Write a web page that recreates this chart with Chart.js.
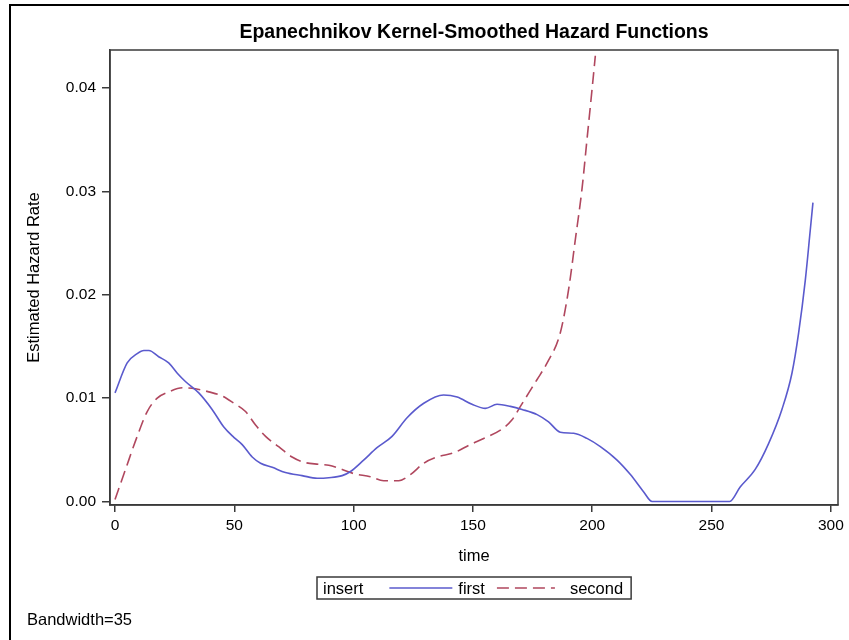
<!DOCTYPE html>
<html>
<head>
<meta charset="utf-8">
<title>Epanechnikov Kernel-Smoothed Hazard Functions</title>
<script src="https://cdn.jsdelivr.net/npm/chart.js@4.4.1/dist/chart.umd.min.js"></script>
<style>
  html, body { margin: 0; padding: 0; background: #fff; }
  #wrap { width: 849px; height: 640px; position: relative; }
</style>
</head>
<body>
<div id="wrap"><canvas id="hazardChart" width="849" height="640"></canvas></div>
<script>
// Dữ liệu
const chartTitle = 'Epanechnikov Kernel-Smoothed Hazard Functions';
const xTitle = 'time';
const yTitle = 'Estimated Hazard Rate';
const legendTitle = 'insert';
const footnote = 'Bandwidth=35';

const xTicks = [0, 50, 100, 150, 200, 250, 300];
const yTicks = [0.00, 0.01, 0.02, 0.03, 0.04];

const seriesNames = ['first', 'second'];

const firstTime = [0, 5.1, 9.3, 12.1, 14.2, 18.3, 22.5, 26.1, 29.5, 35.1, 40.7, 45.6, 49.8, 53.3,
  57.5, 61.0, 65.9, 71.4, 78.4, 84.7, 89.6, 95.2, 98.7, 104.2, 109.8, 116.1, 122.4, 129.4,
  137.7, 143.4, 149.6, 155.2, 160.1, 165.7, 170.6, 176.9, 181.7, 186.6, 192.2, 197.8, 203.4,
  210.4, 216.0, 221.5, 225.1, 257.6, 262.0, 268.3, 273.9, 279.5, 283.7, 286.5, 289.3, 291.4, 292.5];
const firstHazard = [0.0105, 0.0134, 0.0143, 0.0146, 0.0146, 0.0140, 0.0134, 0.0124, 0.0116, 0.0105,
  0.0089, 0.0072, 0.0062, 0.0055, 0.0043, 0.0037, 0.0033, 0.0028, 0.0025, 0.00225, 0.0023,
  0.0025, 0.0029, 0.0040, 0.0052, 0.0063, 0.0081, 0.0095, 0.0103, 0.0101, 0.0094, 0.0090,
  0.0094, 0.0092, 0.0089, 0.0084, 0.0077, 0.0067, 0.0066, 0.0061, 0.0053, 0.0040, 0.0026,
  0.00095, 0.0, 0.0, 0.0014, 0.0031, 0.0056, 0.0089, 0.0124, 0.0163, 0.0214, 0.0263, 0.0289];

const secondTime = [0, 4.4, 9.3, 13.5, 17.7, 22.5, 28.2, 33.7, 39.3, 44.9, 49.8, 54.7, 58.9, 63.1,
  68.6, 74.2, 79.1, 85.4, 89.6, 95.2, 100.0, 107.0, 112.6, 118.9, 123.8, 129.4, 135.0, 141.9,
  148.9, 154.5, 161.5, 166.4, 169.9, 173.4, 176.9, 181.1, 186.6, 190.1, 192.9, 195.7, 197.8,
  199.9, 201.3];
const secondHazard = [0.0002, 0.0031, 0.0063, 0.0087, 0.0100, 0.0106, 0.0110, 0.0109, 0.0106,
  0.0102, 0.0095, 0.0087, 0.0074, 0.0063, 0.0053, 0.0043, 0.0038, 0.0036, 0.0035, 0.0031,
  0.0027, 0.0024, 0.0020, 0.0020, 0.0026, 0.0037, 0.0043, 0.0047, 0.0055, 0.0061, 0.0069,
  0.0079, 0.0092, 0.0105, 0.0118, 0.0134, 0.0163, 0.0205, 0.0253, 0.0302, 0.0350, 0.0398, 0.0431];

const FONT = '"Liberation Sans", Arial, sans-serif';

// Khung ngoài + khung vùng vẽ + tiêu đề + chú thích
const decorPlugin = {
  id: 'decor',
  afterDraw(chart) {
    const ctx = chart.ctx;
    const area = chart.chartArea;
    ctx.save();

    // khung ngoài (chỉ cạnh trái và trên)
    ctx.strokeStyle = '#000';
    ctx.lineWidth = 2;
    ctx.beginPath();
    ctx.moveTo(10, 640);
    ctx.lineTo(10, 5);
    ctx.lineTo(849, 5);
    ctx.stroke();

    // khung vùng vẽ
    ctx.strokeStyle = '#3a3a3a';
    ctx.lineWidth = 1.5;
    ctx.strokeRect(area.left, area.top, area.right - area.left, area.bottom - area.top);

    // tiêu đề
    const cx = (area.left + area.right) / 2;
    ctx.fillStyle = '#000';
    ctx.font = 'bold 19.5px ' + FONT;
    ctx.textAlign = 'center';
    ctx.textBaseline = 'middle';
    ctx.fillText(chartTitle, cx, 33);

    // chú thích
    ctx.font = '16.5px ' + FONT;
    ctx.textAlign = 'left';
    const lineLens = [63, 58], textGap = [6, 15], itemGap = 12, innerPad = 6;
    const items = chart.data.datasets.map(ds => ({ ds, w: ctx.measureText(ds.label).width }));
    const titleW = ctx.measureText(legendTitle).width;
    let total = innerPad + titleW + 26;
    items.forEach((it, i) => { total += lineLens[i] + textGap[i] + it.w + (i < items.length - 1 ? itemGap : 0); });
    total += innerPad + 2;
    const boxX = Math.round(cx - total / 2), boxY = 577, boxH = 22;
    ctx.strokeStyle = '#3a3a3a';
    ctx.lineWidth = 1.5;
    ctx.strokeRect(boxX, boxY, total, boxH);
    const ly = boxY + boxH / 2;
    let x = boxX + innerPad;
    ctx.fillText(legendTitle, x, ly + 1);
    x += titleW + 26;
    items.forEach((it, i) => {
      ctx.strokeStyle = it.ds.borderColor;
      ctx.lineWidth = it.ds.borderWidth;
      ctx.setLineDash(it.ds.borderDash || []);
      ctx.beginPath();
      ctx.moveTo(x, ly);
      ctx.lineTo(x + lineLens[i], ly);
      ctx.stroke();
      ctx.setLineDash([]);
      x += lineLens[i] + textGap[i];
      ctx.fillText(it.ds.label, x, ly + 1);
      x += it.w + itemGap;
    });

    // ghi chú băng thông
    ctx.fillText(footnote, 27, 620);
    ctx.restore();
  }
};

const toPoints = (xs, ys) => xs.map((t, i) => ({ x: t, y: ys[i] }));

new Chart(document.getElementById('hazardChart'), {
  type: 'line',
  data: {
    datasets: [
      {
        label: seriesNames[0],
        data: toPoints(firstTime, firstHazard),
        borderColor: '#5a5acd',
        borderWidth: 1.6,
        pointRadius: 0,
        cubicInterpolationMode: 'monotone',
        fill: false
      },
      {
        label: seriesNames[1],
        data: toPoints(secondTime, secondHazard),
        borderColor: '#b0475e',
        borderWidth: 1.6,
        borderDash: [12, 6],
        pointRadius: 0,
        cubicInterpolationMode: 'monotone',
        fill: false
      }
    ]
  },
  options: {
    responsive: false,
    animation: false,
    devicePixelRatio: 1,
    layout: { padding: { left: 10, right: 11, top: 50, bottom: 70 } },
    plugins: {
      legend: { display: false },
      title: { display: false },
      tooltip: { enabled: false }
    },
    scales: {
      x: {
        type: 'linear',
        min: -2.1,
        max: 303,
        afterBuildTicks(scale) { scale.ticks = xTicks.map(v => ({ value: v })); },
        afterFit(scale) { scale.height = 65; },
        ticks: {
          color: '#000',
          font: { family: FONT, size: 15.5 },
          padding: 4,
          maxRotation: 0,
          callback: v => String(v)
        },
        grid: { drawOnChartArea: false, drawTicks: true, tickLength: 7, color: '#3a3a3a', lineWidth: 1.5 },
        border: { display: true, color: '#3a3a3a', width: 1.5 },
        title: {
          display: true,
          text: xTitle,
          color: '#000',
          font: { family: FONT, size: 16.5 },
          padding: { top: 0, bottom: 4 }
        }
      },
      y: {
        min: -0.00034,
        max: 0.04366,
        afterBuildTicks(scale) { scale.ticks = yTicks.map(v => ({ value: v })); },
        afterFit(scale) { scale.width = 100; },
        ticks: {
          color: '#000',
          font: { family: FONT, size: 15.5 },
          padding: 6,
          callback: v => Number(v).toFixed(2)
        },
        grid: { drawOnChartArea: false, drawTicks: true, tickLength: 8, color: '#3a3a3a', lineWidth: 1.5 },
        border: { display: true, color: '#3a3a3a', width: 1.5 },
        title: {
          display: true,
          text: yTitle,
          color: '#000',
          font: { family: FONT, size: 16.5 },
          padding: { top: 15, bottom: 0 }
        }
      }
    }
  },
  plugins: [decorPlugin]
});
</script>
</body>
</html>
